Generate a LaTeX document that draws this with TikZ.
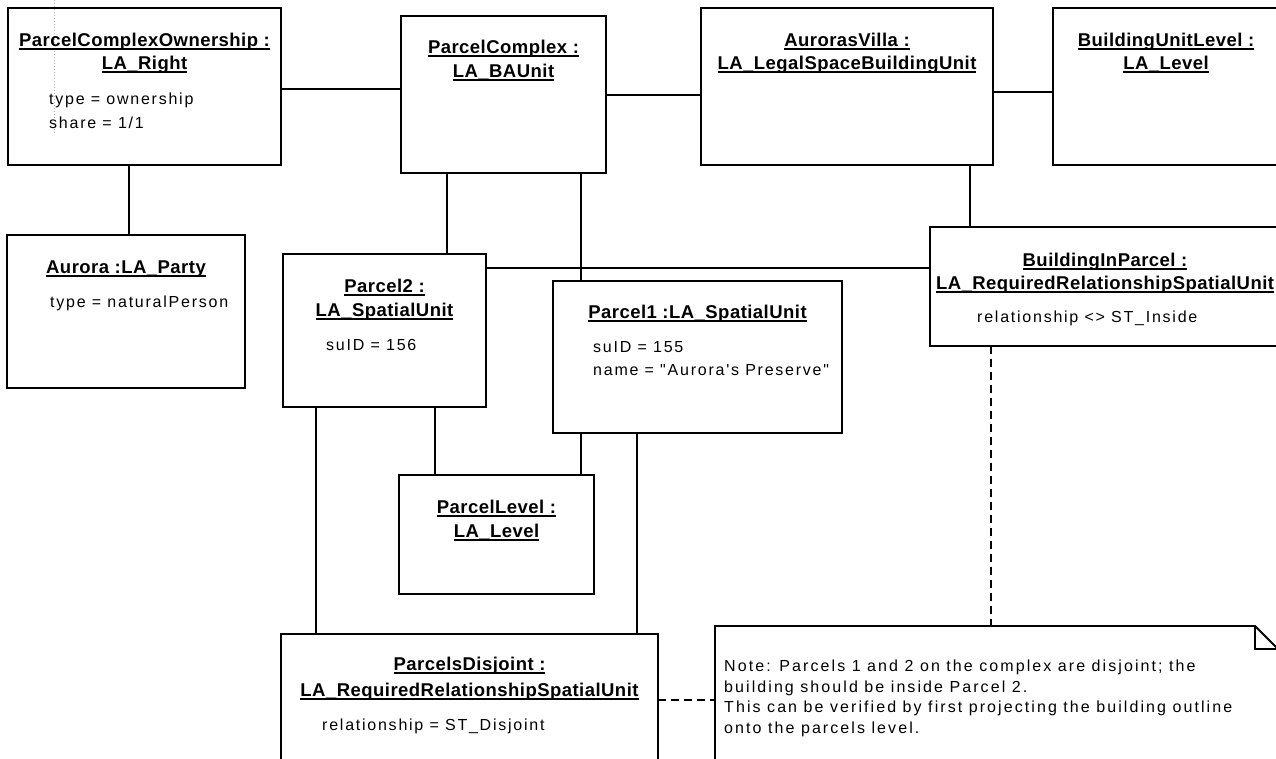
\documentclass[tikz,border=0pt]{standalone}
\usepackage{fontspec}
\setmainfont{Liberation Sans}
\newfontfamily\tfont[LetterSpace=2.5]{Liberation Sans}
\newfontfamily\afont[LetterSpace=11]{Liberation Sans}
\newfontfamily\nfont[LetterSpace=13]{Liberation Sans}
\usetikzlibrary{calc}
\newcommand\ulx[1]{\leavevmode\setbox0\hbox{#1}\rlap{\rule[-3.6pt]{\wd0}{1.5pt}}\box0}
\tikzset{
  box/.style={draw, line width=1.8pt, rectangle, inner sep=0pt, outer sep=0pt, anchor=north west},
  conn/.style={line width=1.6pt},
  dconn/.style={line width=1.6pt, dash pattern=on 8pt off 5pt},
  ttl/.style={font=\tfont\bfseries\fontsize{18.5}{22}\selectfont, anchor=base, inner sep=0pt},
  attr/.style={font=\afont\fontsize{16}{20}\selectfont, anchor=base west, inner sep=0pt},
  notetext/.style={font=\nfont\fontsize{16}{20}\selectfont, anchor=base west, inner sep=0pt},
}
\begin{document}
\begin{tikzpicture}[x=1pt,y=-1pt]
\fill[white] (0,0) rectangle (1276,758);
% faint dotted guide
\draw[gray!60, line width=0.8pt, dash pattern=on 1pt off 2pt] (54,0) -- (54,135);

% boxes
\node[box, minimum width=273pt, minimum height=157pt] (pco) at (8,8) {};
\node[box, minimum width=205pt, minimum height=157pt] (pc) at (401,16) {};
\node[box, minimum width=292pt, minimum height=157pt] (av) at (701,8) {};
\node[box, minimum width=227pt, minimum height=157pt] (bul) at (1053,8) {};
\node[box, minimum width=238pt, minimum height=153pt] (aur) at (7,235) {};
\node[box, minimum width=203pt, minimum height=153pt] (p2) at (283,254) {};
\node[box, minimum width=289pt, minimum height=152pt] (p1) at (553,281) {};
\node[box, minimum width=350pt, minimum height=119pt] (bip) at (930,227) {};
\node[box, minimum width=195pt, minimum height=119pt] (pl) at (399,475) {};
\node[box, minimum width=377pt, minimum height=140pt] (pd) at (281,634) {};
\node[rectangle, inner sep=0pt, outer sep=0pt, anchor=north west, minimum width=563pt, minimum height=144pt] (note) at (715,626) {};
\draw[line width=1.8pt] (note.south west) -- (note.north west) -- ($(note.north east)+(-23,0)$) -- ($(note.north east)+(0,23)$) -- (note.south east);
\draw[line width=1.8pt] ($(note.north east)+(-23,0)$) -- ($(note.north east)+(-23,23)$) -- ($(note.north east)+(0,23)$);

% texts
\node[ttl] (pco-t1) at (144.5,46) {\ulx{ParcelComplexOwnership :}};
\node[ttl] (pco-t2) at (144.5,69) {\ulx{LA\_Right}};
\node[attr] (pco-a1) at (49,104) {type = ownership};
\node[attr] (pco-a2) at (49,128) {share = 1/1};

\node[ttl] (pc-t1) at (503.5,53) {\ulx{ParcelComplex :}};
\node[ttl] (pc-t2) at (503.5,77) {\ulx{LA\_BAUnit}};

\node[ttl] (av-t1) at (847,46) {\ulx{AurorasVilla :}};
\node[ttl] (av-t2) at (847,69) {\ulx{LA\_LegalSpaceBuildingUnit}};

\node[ttl] (bul-t1) at (1166,46) {\ulx{BuildingUnitLevel :}};
\node[ttl] (bul-t2) at (1166,69) {\ulx{LA\_Level}};

\node[ttl] (aur-t1) at (126,273) {\ulx{Aurora :LA\_Party}};
\node[attr] (aur-a1) at (50,307) {type = naturalPerson};

\node[ttl] (p2-t1) at (384.5,292) {\ulx{Parcel2 :}};
\node[ttl] (p2-t2) at (384.5,316) {\ulx{LA\_SpatialUnit}};
\node[attr] (p2-a1) at (326,350) {suID = 156};

\node[ttl] (p1-t1) at (697.5,318) {\ulx{Parcel1 :LA\_SpatialUnit}};
\node[attr] (p1-a1) at (593,352) {suID = 155};
\node[attr] (p1-a2) at (593,375) {name = "Aurora's Preserve"};

\node[ttl] (bip-t1) at (1105,266) {\ulx{BuildingInParcel :}};
\node[ttl] (bip-t2) at (1105,289) {\ulx{LA\_RequiredRelationshipSpatialUnit}};
\node[attr] (bip-a1) at (977,322) {relationship <> ST\_Inside};

\node[ttl] (pl-t1) at (496.5,513) {\ulx{ParcelLevel :}};
\node[ttl] (pl-t2) at (496.5,537) {\ulx{LA\_Level}};

\node[ttl] (pd-t1) at (469.5,670) {\ulx{ParcelsDisjoint :}};
\node[ttl] (pd-t2) at (469.5,696) {\ulx{LA\_RequiredRelationshipSpatialUnit}};
\node[attr] (pd-a1) at (322,730) {relationship = ST\_Disjoint};

\node[notetext] (note-l1) at (724,671) {Note: Parcels 1 and 2 on the complex are disjoint; the};
\node[notetext] (note-l2) at (724,692) {building should be inside Parcel 2.};
\node[notetext] (note-l3) at (724,712) {This can be verified by first projecting the building outline};
\node[notetext] (note-l4) at (724,733) {onto the parcels level.};

% connectors
\draw[conn] (pco.east |- 0,89) -- (pc.west |- 0,89);
\draw[conn] (pc.east |- 0,95) -- (av.west |- 0,95);
\draw[conn] (av.east |- 0,92) -- (bul.west |- 0,92);
\draw[conn] (pco.south -| 129,0) -- (aur.north -| 129,0);
\draw[conn] (pc.south -| 447,0) -- (p2.north -| 447,0);
\draw[conn] (pc.south -| 581,0) -- (p1.north -| 581,0);
\draw[conn] (av.south -| 970,0) -- (bip.north -| 970,0);
\draw[conn] (p2.east |- 0,268) -- (bip.west |- 0,268);
\draw[conn] (p2.south -| 435,0) -- (pl.north -| 435,0);
\draw[conn] (p1.south -| 581,0) -- (pl.north -| 581,0);
\draw[conn] (p2.south -| 316,0) -- (pd.north -| 316,0);
\draw[conn] (p1.south -| 637,0) -- (pd.north -| 637,0);
\draw[dconn] (bip.south -| 991,0) -- (note.north -| 991,0);
\draw[dconn] (pd.east |- 0,700) -- (note.west |- 0,700);

\pgfresetboundingbox
\path[use as bounding box] (0,0) rectangle (1276,758);
\end{tikzpicture}
\end{document}
